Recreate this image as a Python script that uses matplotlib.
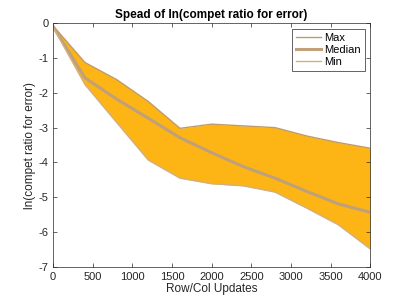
import numpy as np
import matplotlib
matplotlib.use('Agg')
import matplotlib.pyplot as plt

plt.rcParams['font.family'] = ['Liberation Sans', 'DejaVu Sans']
plt.rcParams['axes.unicode_minus'] = False

updates = [0, 400, 800, 1200, 1600, 2000, 2400, 2800, 3200, 3600, 4000]
max_vals = [-0.08, -1.13, -1.62, -2.25, -3.02, -2.9, -2.95, -3.0, -3.24, -3.43, -3.59]
median_vals = [-0.1, -1.57, -2.18, -2.73, -3.29, -3.72, -4.12, -4.45, -4.83, -5.19, -5.43]
min_vals = [-0.12, -1.76, -2.85, -3.93, -4.45, -4.61, -4.67, -4.85, -5.31, -5.79, -6.48]

fill_col = '#FDB515'
line_col = '#C19A66'

fig = plt.figure(figsize=(4.09, 3.0), dpi=100)
ax = fig.add_axes([0.13, 0.11, 0.775, 0.813])

ax.fill_between(updates, min_vals, max_vals, color=fill_col, linewidth=0)
ax.plot(updates, max_vals, color=line_col, lw=1.0, label='Max')
ax.plot(updates, median_vals, color='#BFA07A', lw=2.2, label='Median')
ax.plot(updates, min_vals, color='#D1AF80', lw=1.0, label='Min')

ax.set_xlim(0, 4000)
ax.set_ylim(-7, 0)
ax.set_xticks(range(0, 4001, 500))
ax.set_yticks(range(-7, 1))
ax.tick_params(direction='in', top=True, right=True, labelsize=8, length=3,
               width=0.5, colors='#262626')
for s in ax.spines.values():
    s.set_linewidth(0.5)
    s.set_color('#262626')

ax.set_xlabel('Row/Col Updates', fontsize=8.5, color='#262626', labelpad=1)
ax.set_ylabel('ln(compet ratio for error)', fontsize=8.5, color='#262626', labelpad=2)
ax.set_title('Spead of ln(compet ratio for error)', fontsize=8.5, fontweight='bold', pad=4)

leg = ax.legend(loc='upper right', fontsize=8, fancybox=False, framealpha=1,
                edgecolor='#262626', handlelength=2.2, borderpad=0.35,
                labelspacing=0.2, handletextpad=0.3, borderaxespad=0.5)
leg.get_frame().set_linewidth(0.5)

fig.savefig('out.png', dpi=100)
